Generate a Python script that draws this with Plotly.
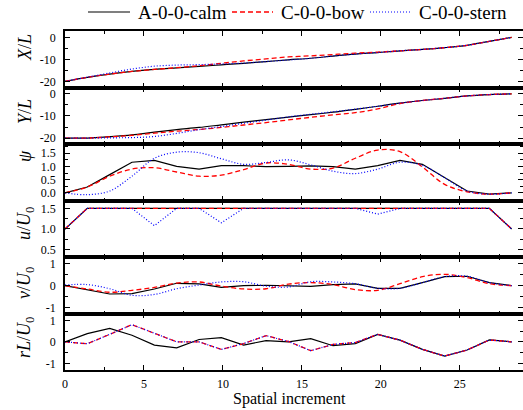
import plotly.graph_objects as go
from plotly.subplots import make_subplots

# ---------------- data ----------------
x_inc = [0, 1.41, 2.83, 4.24, 5.66, 7.07, 8.49, 9.90, 11.31, 12.73, 14.14,
         15.56, 16.97, 18.38, 19.80, 21.21, 22.63, 24.04, 25.46, 26.87, 28.28]

series_names = ["A-0-0-calm", "C-0-0-bow", "C-0-0-stern"]

calm_X = [-20, -18.2, -16.7, -15.5, -14.6, -13.9, -13.2, -12.5, -11.8, -11.0, -10.2,
          -9.5, -8.5, -7.6, -6.9, -6.1, -5.5, -4.7, -3.6, -1.8, 0]
bow_X = [-20, -18.2, -16.7, -15.5, -14.6, -13.8, -12.9, -11.8, -10.7, -9.8, -8.9,
         -8.4, -7.8, -7.2, -6.7, -6.1, -5.5, -4.7, -3.6, -1.8, 0]
stern_X = [-20, -18.1, -16.2, -14.4, -13.1, -12.6, -12.4, -12.1, -11.7, -11.0, -10.3,
           -9.5, -8.5, -7.6, -6.9, -6.1, -5.5, -4.7, -3.6, -1.8, 0]

calm_Y = [-20, -20, -19.4, -18.6, -17.3, -16.2, -15.2, -14.0, -12.8, -11.7, -10.5,
          -9.4, -8.3, -7.0, -5.6, -4.2, -3.0, -2.0, -0.9, -0.3, 0]
bow_Y = [-20, -20, -19.5, -18.8, -17.8, -16.9, -16.1, -15.2, -14.1, -13.0, -11.8,
         -10.6, -9.5, -8.5, -6.8, -4.4, -3.0, -2.0, -0.9, -0.3, 0]
stern_Y = [-20, -20, -19.9, -19.8, -19.3, -17.9, -16.2, -14.8, -13.3, -11.9, -10.4,
           -9.2, -8.1, -6.9, -5.6, -4.2, -3.0, -2.0, -0.9, -0.3, 0]

calm_psi = [0, 0.22, 0.69, 1.16, 1.23, 1.00, 0.90, 1.03, 1.03, 0.99, 1.00,
            1.02, 0.99, 0.90, 1.03, 1.23, 1.08, 0.57, 0.07, -0.05, 0]
bow_psi = [0, 0.22, 0.63, 0.90, 0.95, 0.79, 0.63, 0.67, 0.88, 1.13, 1.08,
           0.90, 0.94, 1.31, 1.62, 1.56, 0.98, 0.32, 0.04, -0.05, 0]
stern_psi = [0, -0.07, 0.07, 0.63, 1.31, 1.54, 1.52, 1.29, 1.08, 1.15, 1.25,
             1.06, 0.82, 0.73, 0.90, 1.16, 1.04, 0.57, 0.07, -0.05, 0]

calm_u = [1.0, 1.5, 1.5, 1.5, 1.5, 1.5, 1.5, 1.5, 1.5, 1.5, 1.5,
          1.5, 1.5, 1.5, 1.5, 1.5, 1.5, 1.5, 1.5, 1.5, 1.0]
bow_u = [1.0, 1.5, 1.5, 1.5, 1.5, 1.5, 1.5, 1.5, 1.5, 1.5, 1.5,
         1.5, 1.5, 1.5, 1.5, 1.5, 1.5, 1.5, 1.5, 1.5, 1.0]
stern_u = [1.0, 1.5, 1.5, 1.5, 1.08, 1.5, 1.5, 1.15, 1.5, 1.5, 1.5,
           1.5, 1.5, 1.5, 1.36, 1.5, 1.5, 1.5, 1.5, 1.5, 1.0]

calm_v = [0, -0.18, -0.38, -0.36, -0.15, 0.11, 0.08, -0.08, 0, 0.02, 0,
          -0.03, 0.05, 0.08, -0.12, -0.12, 0.14, 0.41, 0.43, 0.14, 0]
bow_v = [0, -0.15, -0.30, -0.21, -0.08, 0.12, 0.17, -0.02, -0.15, -0.14, 0.07,
         0.14, 0.05, -0.18, -0.21, 0.09, 0.41, 0.52, 0.37, 0.09, 0]
stern_v = [0.03, 0.05, -0.14, -0.44, -0.40, -0.14, 0.03, 0.17, 0.18, -0.02, -0.06,
           0.18, 0.17, 0.09, -0.12, -0.12, 0.14, 0.41, 0.43, 0.14, 0]

calm_r = [0, 0.38, 0.63, 0.31, -0.15, -0.28, 0.11, 0.20, -0.15, 0.06, 0,
          0.15, -0.18, -0.08, 0.35, 0.08, -0.35, -0.66, -0.38, 0.09, 0]
bow_r = [0, -0.09, 0.35, 0.80, 0.40, 0, 0, -0.35, -0.08, 0.29, 0.02,
         -0.41, -0.12, -0.03, 0.35, 0.08, -0.35, -0.66, -0.38, 0.09, 0]
stern_r = [0, -0.09, 0.35, 0.80, 0.40, 0, 0, -0.35, -0.08, 0.29, 0.02,
           -0.41, -0.12, -0.03, 0.35, 0.08, -0.35, -0.66, -0.38, 0.09, 0]

y_titles = ["<i>X</i>/<i>L</i>", "<i>Y</i>/<i>L</i>", "<i>ψ</i>",
            "<i>u</i>/<i>U</i><sub>0</sub>", "<i>v</i>/<i>U</i><sub>0</sub>",
            "<i>rL</i>/<i>U</i><sub>0</sub>"]
x_title = "Spatial increment"

xtick_vals = [0, 5, 10, 15, 20, 25]
xtick_text = ["0", "5", "10", "15", "20", "25"]
ytick_vals = [[0, -10, -20], [0, -10, -20], [0.0, 0.5, 1.0, 1.5], [0.5, 1.0, 1.5],
              [-1, 0, 1], [-1, 0, 1]]
ytick_text = [["0", "-10", "-20"], ["0", "-10", "-20"], ["0.0", "0.5", "1.0", "1.5"],
              ["0.5", "1.0", "1.5"], ["-1", "0", "1"], ["-1", "0", "1"]]

# ---------------- styling ----------------
W, H = 523, 410
ML, MR, MT, MB = 65, 0, 0, 40
FONT = "Liberation Serif"
plot_w = W - ML - MR
plot_h = H - MT - MB          # paper area: y pixels 0..370
panel_edges_px = [31, 87.5, 144, 200.5, 257, 313.5, 370]

panels = [
    (calm_X, bow_X, stern_X, "spline", "spline"),
    (calm_Y, bow_Y, stern_Y, "spline", "spline"),
    (calm_psi, bow_psi, stern_psi, "linear", "spline"),
    (calm_u, bow_u, stern_u, "linear", "linear"),
    (calm_v, bow_v, stern_v, "linear", "spline"),
    (calm_r, bow_r, stern_r, "linear", "linear"),
]
y_ranges = [[-22.8, 2.9], [-22.7, 2.9], [-0.29, 1.85], [0.32, 1.69],
            [-1.27, 1.31], [-1.31, 1.32]]
y_minor = [5, 5, 0.25, 0.25, 0.5, 0.5]
label_y_px = [48, 112, 156, 224, 283, 338]

fig = make_subplots(rows=6, cols=1, shared_xaxes=True, vertical_spacing=0)

styles = [
    dict(color="black", width=1.2, dash="solid"),
    dict(color="#ff0000", width=1.3, dash="5px,3px"),
    dict(color="#0000ff", width=1.2, dash="1px,2px"),
]

for i, (c, b, s, shp_c, shp_o) in enumerate(panels):
    row = i + 1
    for j, (vals, shp) in enumerate([(c, shp_c), (b, shp_o), (s, shp_o)]):
        fig.add_trace(go.Scatter(
            x=x_inc, y=vals, mode="lines", name=series_names[j],
            line=dict(shape=shp, **styles[j]),
            showlegend=False,
        ), row=row, col=1)

axis_common = dict(
    showline=True, linecolor="black", linewidth=1.5, mirror="allticks",
    ticks="inside", ticklen=5, tickwidth=1, tickcolor="black",
    showgrid=False, zeroline=False,
    tickfont=dict(family=FONT, size=12, color="black"),
)

for i in range(6):
    row = i + 1
    top = 1 - panel_edges_px[i] / plot_h
    bot = 1 - panel_edges_px[i + 1] / plot_h
    fig.update_yaxes(
        domain=[max(bot, 0), top],
        range=y_ranges[i], tickvals=ytick_vals[i], ticktext=ytick_text[i],
        minor=dict(dtick=y_minor[i], ticks="inside", ticklen=3, tickcolor="black", showgrid=False),
        ticklabelstandoff=5,
        **axis_common, row=row, col=1)
    fig.update_xaxes(
        range=[0, 29], tickvals=xtick_vals, ticktext=xtick_text,
        minor=dict(dtick=2.5, tick0=0, ticks="inside", ticklen=3, tickcolor="black", showgrid=False),
        showticklabels=(row == 6), ticklabelstandoff=2,
        **axis_common, row=row, col=1)

for t, py in zip(y_titles, label_y_px):
    fig.add_annotation(
        text=t, xref="paper", yref="paper",
        x=(25 - ML) / plot_w, y=1 - py / plot_h,
        xanchor="center", yanchor="middle", showarrow=False, textangle=-90,
        font=dict(family=FONT, size=18, color="black"))

fig.add_annotation(
    text=x_title, xref="paper", yref="paper",
    x=(289 - ML) / plot_w, y=1 - 399 / plot_h,
    xanchor="center", yanchor="middle", showarrow=False,
    font=dict(family=FONT, size=16, color="black"))

# ---- legend drawn as line samples + labels across the top ----
legend_line_px = [(88, 130), (232, 273), (370, 412)]
legend_text_px = [136, 279, 417]
legend_y_px = 12
for j in range(3):
    x0, x1 = legend_line_px[j]
    st = styles[j]
    fig.add_shape(type="line", xref="paper", yref="paper",
                  x0=(x0 - ML) / plot_w, x1=(x1 - ML) / plot_w,
                  y0=1 - legend_y_px / plot_h, y1=1 - legend_y_px / plot_h,
                  line=dict(color=st["color"], width=st["width"], dash=st["dash"]))
    fig.add_annotation(
        text=series_names[j], xref="paper", yref="paper",
        x=(legend_text_px[j] - ML) / plot_w, y=1 - legend_y_px / plot_h,
        xanchor="left", yanchor="middle", showarrow=False,
        font=dict(family=FONT, size=19, color="black"))

fig.update_layout(
    width=W, height=H,
    margin=dict(l=ML, r=MR, t=MT, b=MB, autoexpand=False),
    paper_bgcolor="white", plot_bgcolor="white",
    font=dict(family=FONT, color="black"),
    showlegend=False,
)

fig.write_html("out.html",
               config={"displayModeBar": False},
               post_script="document.body.style.margin='0';document.body.style.overflow='hidden';")
